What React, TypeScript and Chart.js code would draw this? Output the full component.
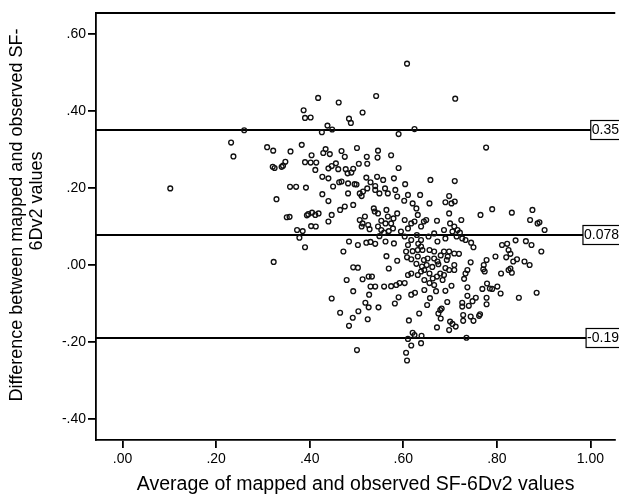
import React, { useEffect, useRef } from "react";
import { Chart, registerables } from "chart.js";

Chart.register(...registerables);

const FONT = "'Liberation Sans', Arial, Helvetica, sans-serif";

const xTickValues = [0, 0.2, 0.4, 0.6, 0.8, 1.0];
const yTickValues = [-0.4, -0.2, 0, 0.2, 0.4, 0.6];
const limitValues = [0.35, 0.078, -0.19];
const limitLabels = ["0.35", "0.078", "-0.19"];
const xTitle = "Average of mapped and observed SF-6Dv2 values";
const yTitleLines = ["Difference between mapped and observed SF-", "6Dv2 values"];

const pointsLeft: [number, number][] = [
  [0.260, 0.350], [0.232, 0.318], [0.237, 0.282], [0.102, 0.199], [0.387, 0.402],
  [0.390, 0.382], [0.309, 0.306], [0.322, 0.297], [0.359, 0.295], [0.383, 0.312],
  [0.348, 0.268], [0.343, 0.258], [0.340, 0.255], [0.321, 0.255], [0.325, 0.252],
  [0.390, 0.267], [0.358, 0.203], [0.371, 0.203], [0.392, 0.201], [0.329, 0.171],
  [0.351, 0.124], [0.357, 0.125], [0.394, 0.129], [0.373, 0.091], [0.385, 0.088],
  [0.378, 0.071], [0.390, 0.046], [0.323, 0.008],
];

const pointsUpperMid: [number, number][] = [
  [0.608, 0.523], [0.542, 0.439], [0.418, 0.434], [0.462, 0.422], [0.402, 0.383],
  [0.513, 0.396], [0.484, 0.380], [0.488, 0.369], [0.711, 0.432], [0.438, 0.362],
  [0.426, 0.345], [0.448, 0.352], [0.590, 0.340], [0.624, 0.353],
  [0.404, 0.285], [0.434, 0.301], [0.429, 0.291], [0.443, 0.288], [0.468, 0.296],
  [0.475, 0.281], [0.501, 0.304], [0.546, 0.297], [0.522, 0.281], [0.545, 0.279],
  [0.574, 0.285], [0.402, 0.266], [0.414, 0.266], [0.412, 0.247],
  [0.440, 0.251], [0.447, 0.257], [0.456, 0.264], [0.461, 0.249], [0.477, 0.249],
  [0.481, 0.238], [0.489, 0.240], [0.493, 0.250], [0.505, 0.263], [0.523, 0.263],
  [0.521, 0.227], [0.590, 0.252], [0.427, 0.229], [0.440, 0.225], [0.544, 0.229],
  [0.580, 0.225], [0.658, 0.221],
];

const pointsCentre: [number, number][] = [
  [0.530, 0.215], [0.523, 0.199], [0.540, 0.205], [0.557, 0.221], [0.561, 0.199],
  [0.583, 0.195], [0.604, 0.210], [0.450, 0.204], [0.463, 0.215], [0.468, 0.217],
  [0.482, 0.212], [0.496, 0.210], [0.500, 0.209], [0.514, 0.191], [0.511, 0.179],
  [0.507, 0.186], [0.540, 0.195], [0.549, 0.186], [0.567, 0.186], [0.587, 0.178],
  [0.610, 0.182], [0.636, 0.182], [0.602, 0.167], [0.620, 0.160], [0.628, 0.147],
  [0.631, 0.130], [0.656, 0.160], [0.690, 0.163], [0.672, 0.115], [0.687, 0.091],
  [0.649, 0.117], [0.644, 0.113], [0.638, 0.100], [0.624, 0.113], [0.617, 0.108],
  [0.603, 0.117], [0.610, 0.095], [0.595, 0.087], [0.587, 0.134], [0.579, 0.121],
  [0.574, 0.108], [0.564, 0.143], [0.546, 0.134], [0.539, 0.139], [0.537, 0.147],
  [0.518, 0.126], [0.507, 0.117], [0.513, 0.108], [0.511, 0.100], [0.525, 0.104],
  [0.528, 0.093], [0.546, 0.100], [0.553, 0.091], [0.559, 0.084], [0.569, 0.088],
  [0.578, 0.095], [0.562, 0.108], [0.553, 0.115], [0.567, 0.126], [0.427, 0.184],
  [0.440, 0.166], [0.482, 0.186], [0.493, 0.156], [0.475, 0.152], [0.465, 0.143],
  [0.447, 0.130], [0.440, 0.113], [0.419, 0.134], [0.405, 0.136], [0.397, 0.132],
  [0.412, 0.130], [0.403, 0.101], [0.413, 0.100],
  [0.484, 0.061], [0.472, 0.035], [0.503, 0.052], [0.521, 0.058], [0.530, 0.060],
  [0.540, 0.055], [0.549, 0.075], [0.562, 0.061], [0.580, 0.056], [0.603, 0.074],
  [0.617, 0.065], [0.629, 0.078], [0.638, 0.065], [0.632, 0.055], [0.638, 0.048],
  [0.610, 0.052], [0.606, 0.035], [0.620, 0.036], [0.631, 0.039], [0.654, 0.074],
  [0.666, 0.082], [0.690, 0.069], [0.714, 0.074], [0.673, 0.061], [0.641, 0.039],
  [0.656, 0.039], [0.666, 0.035], [0.687, 0.035], [0.709, 0.030],
  [0.564, 0.023], [0.587, 0.011], [0.608, 0.020], [0.617, 0.015], [0.631, 0.022],
  [0.644, 0.013], [0.652, 0.017], [0.666, 0.017], [0.673, 0.009], [0.693, 0.013],
  [0.569, -0.009], [0.493, -0.006], [0.503, -0.007], [0.479, -0.039], [0.513, -0.037],
  [0.526, -0.030], [0.533, -0.030], [0.530, -0.056], [0.540, -0.056], [0.559, -0.056],
  [0.574, -0.055], [0.585, -0.052], [0.592, -0.047], [0.603, -0.047], [0.610, -0.026],
  [0.617, -0.022], [0.631, -0.026], [0.638, -0.017], [0.645, -0.013], [0.656, -0.022],
  [0.663, -0.035], [0.672, -0.030], [0.679, -0.022], [0.687, -0.026], [0.698, -0.013],
  [0.645, -0.039], [0.656, -0.047], [0.666, -0.052], [0.684, -0.039], [0.645, -0.065],
  [0.650, 0.000], [0.662, -0.005], [0.675, 0.002], [0.690, -0.008], [0.628, 0.003],
  [0.640, -0.004], [0.680, 0.025], [0.695, 0.022],
];

const pointsLowerMid: [number, number][] = [
  [0.447, -0.087], [0.493, -0.068], [0.527, -0.077], [0.465, -0.124], [0.492, -0.137],
  [0.504, -0.120], [0.484, -0.158], [0.519, -0.098], [0.526, -0.110], [0.524, -0.141],
  [0.547, -0.110], [0.582, -0.100], [0.590, -0.084], [0.617, -0.077], [0.625, -0.072],
  [0.612, -0.144], [0.634, -0.126], [0.651, -0.104], [0.657, -0.086], [0.670, -0.068],
  [0.690, -0.067], [0.694, -0.096], [0.679, -0.117], [0.675, -0.126], [0.682, -0.113],
  [0.680, -0.139], [0.672, -0.162], [0.620, -0.176], [0.624, -0.182], [0.639, -0.184],
  [0.610, -0.192], [0.617, -0.209], [0.638, -0.203], [0.606, -0.228], [0.608, -0.248],
  [0.501, -0.221],
];

const pointsRight: [number, number][] = [
  [0.777, 0.305], [0.710, 0.218], [0.698, 0.179], [0.703, 0.160], [0.710, 0.165],
  [0.698, 0.134], [0.724, 0.117], [0.700, 0.108], [0.709, 0.100], [0.716, 0.091],
  [0.721, 0.084], [0.705, 0.087], [0.726, 0.069], [0.733, 0.065], [0.745, 0.058],
  [0.750, 0.046], [0.765, 0.130], [0.790, 0.145], [0.832, 0.136], [0.876, 0.143],
  [0.871, 0.117], [0.891, 0.111], [0.887, 0.108], [0.902, 0.091], [0.811, 0.052],
  [0.822, 0.055], [0.840, 0.064], [0.862, 0.062], [0.874, 0.052], [0.895, 0.035],
  [0.825, 0.039], [0.829, 0.029], [0.843, 0.015], [0.835, 0.009], [0.820, 0.020],
  [0.797, 0.022], [0.778, 0.013], [0.772, 0.000], [0.771, -0.011], [0.774, -0.017],
  [0.809, -0.022], [0.825, -0.013], [0.832, -0.020], [0.829, -0.009], [0.859, 0.009],
  [0.870, 0.000], [0.744, 0.007], [0.737, -0.013], [0.733, -0.022], [0.730, -0.036],
  [0.719, 0.029], [0.698, 0.035], [0.709, 0.000], [0.709, -0.013], [0.703, -0.054],
  [0.737, -0.058], [0.769, -0.062], [0.779, -0.048], [0.785, -0.061], [0.790, -0.062],
  [0.801, -0.056], [0.808, -0.074], [0.755, -0.085], [0.737, -0.080], [0.778, -0.085],
  [0.847, -0.085], [0.885, -0.072],
];

const pointsLowerRight: [number, number][] = [
  [0.778, -0.102], [0.726, -0.098], [0.726, -0.108], [0.740, -0.106], [0.748, -0.094],
  [0.728, -0.130], [0.728, -0.145], [0.744, -0.134], [0.750, -0.145], [0.762, -0.132],
  [0.764, -0.128], [0.700, -0.147], [0.705, -0.153], [0.712, -0.160], [0.698, -0.169],
  [0.735, -0.189],
];

const allPoints = [
  ...pointsLeft, ...pointsUpperMid, ...pointsCentre,
  ...pointsLowerMid, ...pointsRight, ...pointsLowerRight,
];

const fmt = (v: number) => v.toFixed(2).replace(/^(-?)0\./, "$1.");

const refPlugin = {
  id: "blandAltmanRefs",
  beforeDatasetsDraw(chart: any) {
    const { ctx, chartArea: a, scales } = chart;
    const y = scales.y;
    ctx.save();
    ctx.strokeStyle = "#000";
    ctx.lineWidth = 1.8;
    ctx.beginPath();
    ctx.moveTo(a.left, a.top);
    ctx.lineTo(a.right, a.top);
    ctx.stroke();
    limitValues.forEach((v) => {
      const py = Math.round(y.getPixelForValue(v));
      ctx.beginPath();
      ctx.moveTo(a.left, py);
      ctx.lineTo(a.right, py);
      ctx.stroke();
    });
    ctx.restore();
  },
  afterDatasetsDraw(chart: any) {
    const { ctx, scales } = chart;
    const y = scales.y;
    ctx.save();
    ctx.font = `14px ${FONT}`;
    ctx.textBaseline = "middle";
    ctx.textAlign = "left";
    limitValues.forEach((v, i) => {
      const py = Math.round(y.getPixelForValue(v));
      const label = limitLabels[i];
      const w = ctx.measureText(label).width;
      const left = 619 - w - 1;
      ctx.fillStyle = "#fff";
      ctx.fillRect(left, py - 9.5, w + 10, 19);
      ctx.strokeStyle = "#000";
      ctx.lineWidth = 1.2;
      ctx.strokeRect(left, py - 9.5, w + 10, 19);
      ctx.fillStyle = "#000";
      ctx.fillText(label, left + 1, py + 0.5);
    });
    ctx.restore();
  },
  afterDraw(chart: any) {
    const { ctx } = chart;
    ctx.save();
    ctx.font = `18px ${FONT}`;
    ctx.fillStyle = "#000";
    ctx.textAlign = "center";
    ctx.textBaseline = "middle";
    const pos = [
      [17, 215],
      [37, 201],
    ];
    yTitleLines.forEach((line, i) => {
      ctx.save();
      ctx.translate(pos[i][0], pos[i][1]);
      ctx.rotate(-Math.PI / 2);
      ctx.fillText(line, 0, 0);
      ctx.restore();
    });
    ctx.restore();
  },
};

export default function App() {
  const canvasRef = useRef<HTMLCanvasElement | null>(null);

  useEffect(() => {
    if (!canvasRef.current) return;
    const chart = new Chart(canvasRef.current, {
      type: "scatter",
      data: {
        datasets: [
          {
            data: allPoints.map(([x, y]) => ({ x, y })),
            pointRadius: 2.4,
            pointHoverRadius: 2.4,
            borderWidth: 1.35,
            borderColor: "#111",
            backgroundColor: "rgba(0,0,0,0)",
          },
        ],
      },
      options: {
        animation: false,
        responsive: false,
        devicePixelRatio: 1,
        events: [],
        layout: { padding: { top: 13, right: 0, left: 0, bottom: 0 } },
        plugins: {
          legend: { display: false },
          tooltip: { enabled: false },
        },
        scales: {
          x: {
            type: "linear",
            min: -0.0567,
            max: 1.053,
            afterBuildTicks: (ax: any) => {
              ax.ticks = xTickValues.map((v) => ({ value: v }));
            },
            afterFit: (ax: any) => {
              ax.height = 61;
            },
            ticks: {
              callback: (v: any) => fmt(Number(v)),
              font: { size: 14, family: FONT },
              color: "#000",
              padding: 3,
              maxRotation: 0,
              autoSkip: false,
            },
            grid: {
              display: true,
              drawOnChartArea: false,
              drawTicks: true,
              tickLength: 8,
              color: "#000",
              lineWidth: 1.8,
            },
            border: { display: true, color: "#000", width: 1.8 },
            title: {
              display: true,
              text: xTitle,
              font: { size: 19.5, family: FONT },
              color: "#000",
              padding: { top: 0, bottom: 5 },
            },
          },
          y: {
            type: "linear",
            min: -0.4545,
            max: 0.6545,
            afterBuildTicks: (ax: any) => {
              ax.ticks = yTickValues.map((v) => ({ value: v }));
            },
            afterFit: (ax: any) => {
              ax.width = 96;
            },
            ticks: {
              callback: (v: any) => fmt(Number(v)),
              font: { size: 14, family: FONT },
              color: "#000",
              padding: 2,
              autoSkip: false,
            },
            grid: {
              display: true,
              drawOnChartArea: false,
              drawTicks: true,
              tickLength: 8,
              color: "#000",
              lineWidth: 1.8,
            },
            border: { display: true, color: "#000", width: 1.8 },
            title: { display: false },
          },
        },
      },
      plugins: [refPlugin],
    } as any);
    return () => chart.destroy();
  }, []);

  return (
    <div style={{ position: "fixed", left: 0, top: 0, width: 619, height: 501, background: "#fff" }}>
      <canvas ref={canvasRef} width={619} height={501} style={{ display: "block" }} />
    </div>
  );
}
